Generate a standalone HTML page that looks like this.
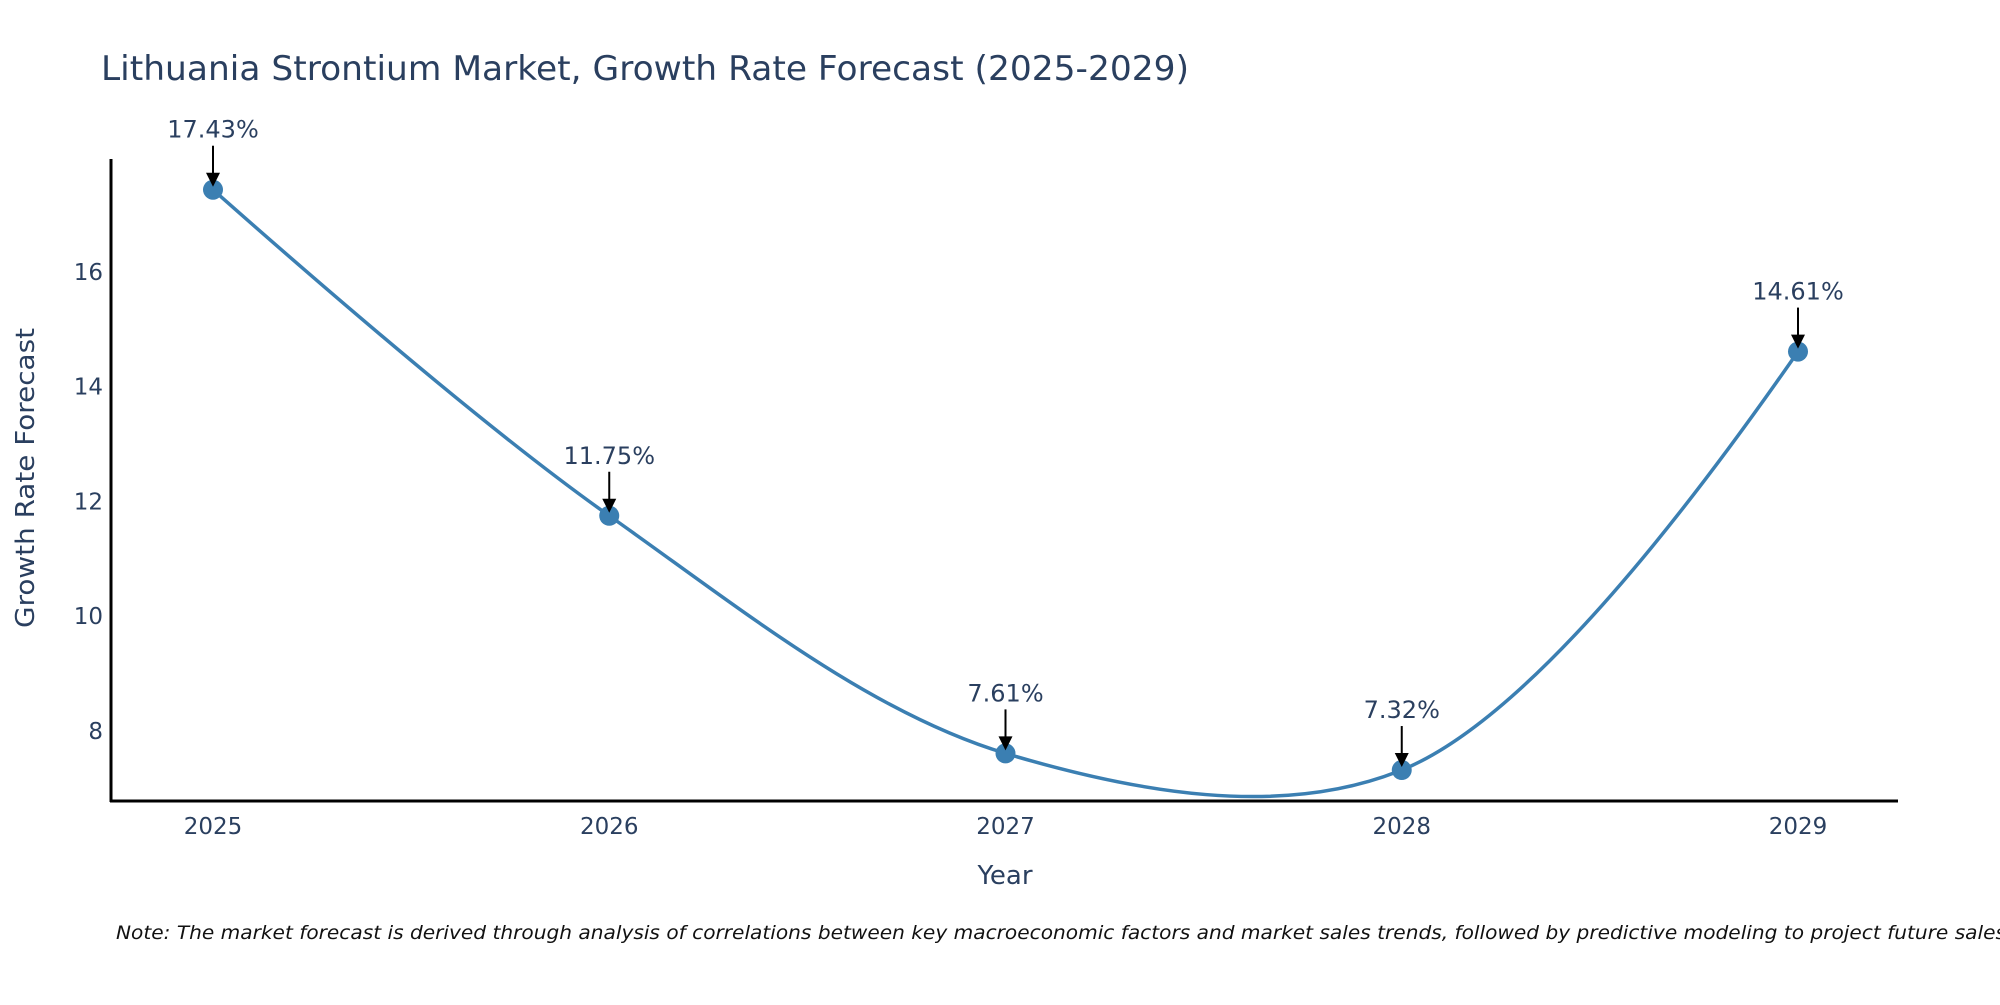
<!DOCTYPE html>
<html><head><meta charset="utf-8"><style>
body{margin:0;background:#fff}
svg text{font-family:"DejaVu Sans","Liberation Sans",sans-serif;fill:#2a3f5f}
</style></head><body>
<svg id="c" width="2000" height="1000" xmlns="http://www.w3.org/2000/svg">
<text x="101" y="80" font-size="34" textLength="1088" lengthAdjust="spacingAndGlyphs">Lithuania Strontium Market, Growth Rate Forecast (2025-2029)</text>
<g id="yt"></g><g id="xt"></g>
<line x1="111" y1="159" x2="111" y2="802" stroke="#000" stroke-width="3"/>
<line x1="110" y1="801" x2="1898" y2="801" stroke="#000" stroke-width="3"/>
<path id="line" fill="none" stroke="#3b7fb2" stroke-width="3.5"/>
<g id="pts"></g>
<text x="1005" y="884" font-size="26" text-anchor="middle">Year</text>
<text transform="translate(34,478) rotate(-90)" font-size="26" text-anchor="middle" textLength="300" lengthAdjust="spacingAndGlyphs">Growth Rate Forecast</text>
<text x="116" y="939" font-size="19" font-style="italic" textLength="1890" lengthAdjust="spacingAndGlyphs" style="fill:#111">Note: The market forecast is derived through analysis of correlations between key macroeconomic factors and market sales trends, followed by predictive modeling to project future sales</text>
</svg>
<script>
const years=[2025,2026,2027,2028,2029];
const values=[17.43,11.75,7.61,7.32,14.61];
const labels=["17.43%","11.75%","7.61%","7.32%","14.61%"];
const yTicks=[8,10,12,14,16];
const NS="http://www.w3.org/2000/svg";
const X=v=>213+(v-2025)*396.25;
const Y=v=>731-(v-8)*57.4;
function mk(t,a,p){const e=document.createElementNS(NS,t);for(const k in a)e.setAttribute(k,a[k]);(p||document.getElementById('c')).appendChild(e);return e;}
const yt=document.getElementById('yt'),xt=document.getElementById('xt'),pg=document.getElementById('pts');
yTicks.forEach(v=>{const t=mk('text',{x:103,y:Y(v)+8,'font-size':23,'text-anchor':'end'},yt);t.textContent=v;

});
years.forEach(v=>{const t=mk('text',{x:X(v),y:834,'font-size':23,'text-anchor':'middle'},xt);t.textContent=v;

});
const P=years.map((y,i)=>[X(y),Y(values[i])]);
function tan(a,b,c){const d1x=a[0]-b[0],d1y=a[1]-b[1],d2x=c[0]-b[0],d2y=c[1]-b[1];
const d1a=Math.pow(d1x*d1x+d1y*d1y,0.25),d2a=Math.pow(d2x*d2x+d2y*d2y,0.25);
const nx=(d2a*d2a*d1x-d1a*d1a*d2x),ny=(d2a*d2a*d1y-d1a*d1a*d2y);
const D1=3*d2a*(d1a+d2a),D2=3*d1a*(d1a+d2a);
return [[b[0]+nx/D1,b[1]+ny/D1],[b[0]-nx/D2,b[1]-ny/D2]];}
const T=[];for(let i=1;i<P.length-1;i++)T.push(tan(P[i-1],P[i],P[i+1]));
let d='M'+P[0]+'Q'+T[0][0]+' '+P[1];
for(let i=2;i<P.length-1;i++)d+='C'+T[i-2][1]+' '+T[i-1][0]+' '+P[i];
d+='Q'+T[P.length-3][1]+' '+P[P.length-1];
document.getElementById('line').setAttribute('d',d);
P.forEach((p,i)=>{
const c=mk('circle',{cx:p[0],cy:p[1],r:10,fill:'#3b7fb2'},pg);


const a=mk('line',{x1:p[0],y1:p[1]-44,x2:p[0],y2:p[1]-14,stroke:'#000','stroke-width':2},pg);


const h=mk('polygon',{points:(p[0]-7)+','+(p[1]-17)+' '+(p[0]+7)+','+(p[1]-17)+' '+p[0]+','+(p[1]-3),fill:'#000'},pg);


const t=mk('text',{x:p[0],y:p[1]-52,'font-size':24,'text-anchor':'middle'},pg);t.textContent=labels[i];


});
</script>
</body></html>
